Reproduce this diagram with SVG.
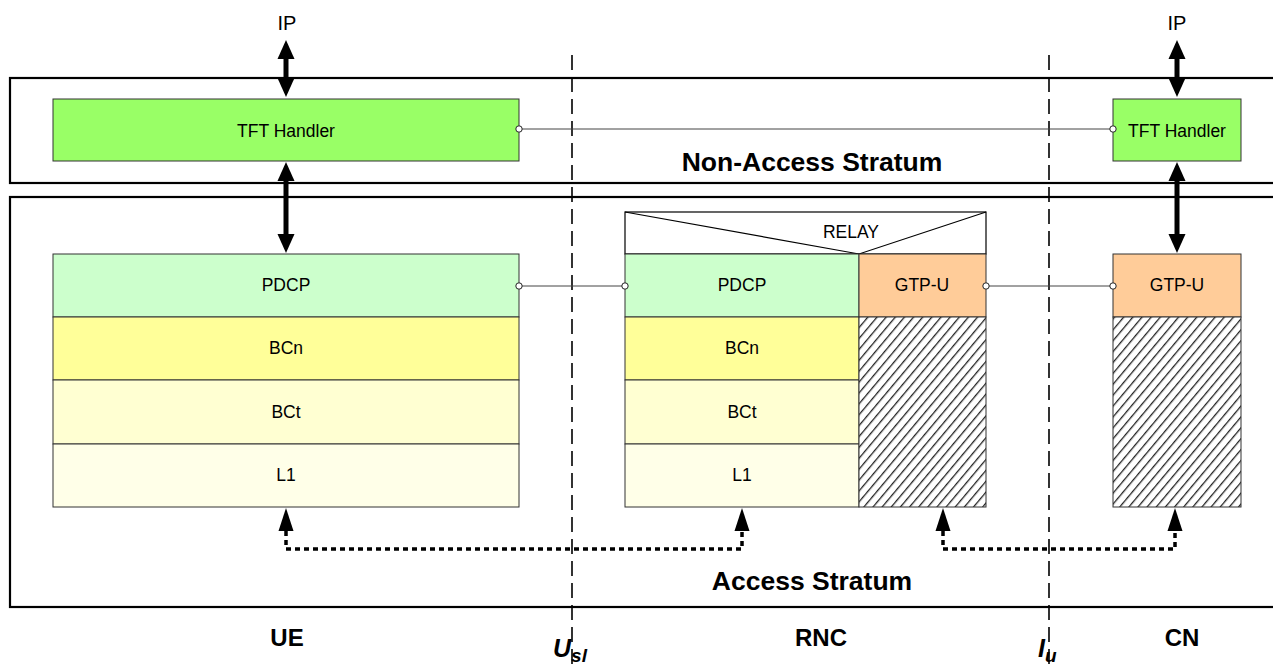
<svg xmlns="http://www.w3.org/2000/svg" width="1273" height="666" viewBox="0 0 1273 666">
  <defs>
    <style>
      .frame { fill: none; stroke: #000; stroke-width: 2.2; }
      .iface { fill: none; stroke: #000; stroke-width: 1.6; stroke-dasharray: 15 7; }
      .box { stroke: #333; stroke-width: 1; }
      .lbl { font-family: "Liberation Sans", Arial, sans-serif; font-size: 17.5px; fill: #000; text-anchor: middle; }
      .big { font-family: "Liberation Sans", Arial, sans-serif; font-size: 26.5px; font-weight: bold; fill: #000; text-anchor: middle; }
      .site { font-family: "Liberation Sans", Arial, sans-serif; font-size: 24px; font-weight: bold; fill: #000; text-anchor: middle; }
      .ref { font-family: "Liberation Sans", Arial, sans-serif; font-size: 25px; font-weight: bold; font-style: italic; fill: #000; }
      .thick { stroke: #000; stroke-width: 5; fill: none; marker-start: url(#bigHead); marker-end: url(#bigHead); }
      .dots { stroke: #000; stroke-width: 3.5; fill: none; stroke-dasharray: 5 4; marker-start: url(#smallHead); marker-end: url(#smallHead); }
      .link { stroke: #444; stroke-width: 1; fill: none; }
      .port { fill: #fff; stroke: #222; stroke-width: 1; }
      .tft { fill: #99FF66; }
      .pdcp { fill: #CCFFCC; }
      .bcn { fill: #FFFF99; }
      .bct { fill: #FFFFD2; }
      .l1 { fill: #FFFFE8; }
      .gtp { fill: #FFCC99; }
      .hatch { fill: url(#hatchFill); }
    </style>
    <marker id="bigHead" markerUnits="userSpaceOnUse" markerWidth="20" markerHeight="18" viewBox="0 -9 20 18" refX="0" refY="0" orient="auto-start-reverse" overflow="visible">
      <path d="M0,-8.5 L19,0 L0,8.5 Z" fill="#000"/>
    </marker>
    <marker id="smallHead" markerUnits="userSpaceOnUse" markerWidth="24" markerHeight="16" viewBox="0 -8 24 16" refX="0" refY="0" orient="auto-start-reverse" overflow="visible">
      <path d="M0,-7.5 L23,0 L0,7.5 Z" fill="#000"/>
    </marker>
    <!-- diagonal hatching for the unused lower layers -->
    <pattern id="hatchFill" patternUnits="userSpaceOnUse" width="7" height="7" patternTransform="rotate(40)">
      <rect width="7" height="7" fill="#fff"/>
      <line x1="0" y1="0" x2="0" y2="7" stroke="#222" stroke-width="2.6"/>
    </pattern>
  </defs>

  <!-- stratum frames -->
  <rect class="frame" x="10" y="78" width="1290" height="105"/>
  <rect class="frame" x="10" y="197" width="1290" height="410"/>
  <text class="big" x="812" y="171">Non-Access Stratum</text>
  <text class="big" x="812" y="590">Access Stratum</text>

  <!-- interface reference lines -->
  <line class="iface" x1="572" y1="55" x2="572" y2="666"/>
  <line class="iface" x1="1049" y1="55" x2="1049" y2="666"/>

  <!-- UE -->
  <g id="ue">
    <text class="lbl" x="287" y="30" style="font-size:20px">IP</text>
    <rect class="box tft" x="53" y="99" width="466" height="62"/>
    <text class="lbl" x="286" y="137">TFT Handler</text>
    <rect class="box pdcp" x="53" y="254" width="466" height="63"/>
    <text class="lbl" x="286" y="291">PDCP</text>
    <rect class="box bcn" x="53" y="317" width="466" height="63"/>
    <text class="lbl" x="286" y="354">BCn</text>
    <rect class="box bct" x="53" y="380" width="466" height="64"/>
    <text class="lbl" x="286" y="418">BCt</text>
    <rect class="box l1" x="53" y="444" width="466" height="63"/>
    <text class="lbl" x="286" y="481">L1</text>
    <text class="site" x="287" y="646">UE</text>
  </g>

  <!-- RNC -->
  <g id="rnc">
    <rect x="625" y="212" width="361" height="42" fill="#fff" stroke="#000" stroke-width="1.2"/>
    <polyline points="625,212 859,254 986,212" fill="none" stroke="#000" stroke-width="1.2"/>
    <text class="lbl" x="851" y="238">RELAY</text>
    <rect class="box pdcp" x="625" y="254" width="234" height="63"/>
    <text class="lbl" x="742" y="291">PDCP</text>
    <rect class="box bcn" x="625" y="317" width="234" height="63"/>
    <text class="lbl" x="742" y="354">BCn</text>
    <rect class="box bct" x="625" y="380" width="234" height="64"/>
    <text class="lbl" x="742" y="418">BCt</text>
    <rect class="box l1" x="625" y="444" width="234" height="63"/>
    <text class="lbl" x="742" y="481">L1</text>
    <rect class="box gtp" x="859" y="254" width="127" height="63"/>
    <text class="lbl" x="922" y="291">GTP-U</text>
    <rect class="box hatch" x="859" y="317" width="127" height="190"/>
    <text class="site" x="821" y="646">RNC</text>
  </g>

  <!-- CN -->
  <g id="cn">
    <text class="lbl" x="1177" y="30" style="font-size:20px">IP</text>
    <rect class="box tft" x="1113" y="99" width="128" height="62"/>
    <text class="lbl" x="1177" y="137">TFT Handler</text>
    <rect class="box gtp" x="1113" y="254" width="128" height="63"/>
    <text class="lbl" x="1177" y="291">GTP-U</text>
    <rect class="box hatch" x="1113" y="317" width="128" height="190"/>
    <text class="site" x="1182" y="646">CN</text>
  </g>

  <!-- interface names -->
  <g id="interfaces">
    <text class="ref" x="553" y="657">U<tspan dy="5" style="font-size:19px">sl</tspan></text>
    <text class="ref" x="1038" y="657">I<tspan dy="5" style="font-size:19px">u</tspan></text>
  </g>

  <!-- connectors -->
  <g id="connectors">
    <line class="thick" x1="286" y1="59" x2="286" y2="78"/>
    <line class="thick" x1="286" y1="181" x2="286" y2="234"/>
    <line class="thick" x1="1177" y1="59" x2="1177" y2="78"/>
    <line class="thick" x1="1177" y1="181" x2="1177" y2="234"/>

    <line class="link" x1="519" y1="129" x2="1113" y2="129"/>
    <circle class="port" cx="519" cy="129" r="3.2"/>
    <circle class="port" cx="1113" cy="129" r="3.2"/>

    <line class="link" x1="519" y1="286" x2="625" y2="286"/>
    <circle class="port" cx="519" cy="286" r="3.2"/>
    <circle class="port" cx="625" cy="286" r="3.2"/>

    <line class="link" x1="986" y1="286" x2="1113" y2="286"/>
    <circle class="port" cx="986" cy="286" r="3.2"/>
    <circle class="port" cx="1113" cy="286" r="3.2"/>

    <polyline class="dots" points="286,531 286,549 742,549 742,531"/>
    <polyline class="dots" points="943,531 943,549 1175,549 1175,531"/>
  </g>
</svg>
